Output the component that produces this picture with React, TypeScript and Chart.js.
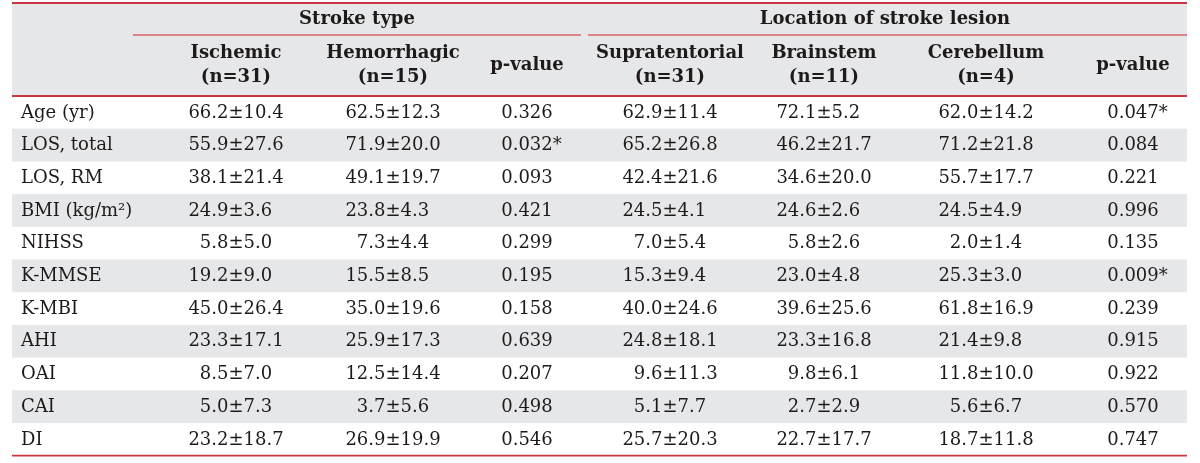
import React, { useEffect, useRef } from "react";
import { Chart, registerables } from "chart.js";

Chart.register(...registerables);

// ---- Table content ----
const groupHeaders = ["Stroke type", "Location of stroke lesion"];
const columnHeaders: string[][] = [
  ["Ischemic", "(n=31)"],
  ["Hemorrhagic", "(n=15)"],
  ["p-value"],
  ["Supratentorial", "(n=31)"],
  ["Brainstem", "(n=11)"],
  ["Cerebellum", "(n=4)"],
  ["p-value"],
];
const rowLabels = [
  "Age (yr)",
  "LOS, total",
  "LOS, RM",
  "BMI (kg/m²)",
  "NIHSS",
  "K-MMSE",
  "K-MBI",
  "AHI",
  "OAI",
  "CAI",
  "DI",
];
const ischemic = ["66.2±10.4", "55.9±27.6", "38.1±21.4", "24.9±3.6", "5.8±5.0", "19.2±9.0", "45.0±26.4", "23.3±17.1", "8.5±7.0", "5.0±7.3", "23.2±18.7"];
const hemorrhagic = ["62.5±12.3", "71.9±20.0", "49.1±19.7", "23.8±4.3", "7.3±4.4", "15.5±8.5", "35.0±19.6", "25.9±17.3", "12.5±14.4", "3.7±5.6", "26.9±19.9"];
const pStrokeType = ["0.326", "0.032*", "0.093", "0.421", "0.299", "0.195", "0.158", "0.639", "0.207", "0.498", "0.546"];
const supratentorial = ["62.9±11.4", "65.2±26.8", "42.4±21.6", "24.5±4.1", "7.0±5.4", "15.3±9.4", "40.0±24.6", "24.8±18.1", "9.6±11.3", "5.1±7.7", "25.7±20.3"];
const brainstem = ["72.1±5.2", "46.2±21.7", "34.6±20.0", "24.6±2.6", "5.8±2.6", "23.0±4.8", "39.6±25.6", "23.3±16.8", "9.8±6.1", "2.7±2.9", "22.7±17.7"];
const cerebellum = ["62.0±14.2", "71.2±21.8", "55.7±17.7", "24.5±4.9", "2.0±1.4", "25.3±3.0", "61.8±16.9", "21.4±9.8", "11.8±10.0", "5.6±6.7", "18.7±11.8"];
const pLocation = ["0.047*", "0.084", "0.221", "0.996", "0.135", "0.009*", "0.239", "0.915", "0.922", "0.570", "0.747"];

const columns = [ischemic, hemorrhagic, pStrokeType, supratentorial, brainstem, cerebellum, pLocation];

// ---- Layout (in scale units = pixels) ----
const colCenters = [236, 393, 527, 670, 824, 986, 1133];
const groupCenters = [357, 885];
const groupSpans: [number, number][] = [[133, 581], [588, 1187]];
const labelX = 21;
const tableLeft = 12;
const tableRight = 1187;
const topLineY = 3;
const groupLineY = 35;
const headerBottomY = 96;
const rowHeight = 32.7;

const RED = "#c93840";
const RED_LIGHT = "#d6646b";
const GREY = "#e6e7e8";
const TEXT = "#1e1a1b";
const FONT = "18px 'DejaVu Serif'";
const BOLD = "bold 18px 'DejaVu Serif'";

const tablePlugin = {
  id: "tablePlugin",
  beforeDraw(chart: any) {
    const { ctx } = chart;
    const xs = chart.scales.x;
    const ys = chart.scales.y;
    const X = (v: number) => xs.getPixelForValue(v);
    const Y = (v: number) => ys.getPixelForValue(v);
    const n = rowLabels.length;
    const bottomY = headerBottomY + n * rowHeight;

    ctx.save();
    // header background
    ctx.fillStyle = GREY;
    ctx.fillRect(X(tableLeft), Y(topLineY), X(tableRight) - X(tableLeft), Y(headerBottomY) - Y(topLineY));
    // alternating row bands
    for (let i = 0; i < n; i++) {
      if (i % 2 === 1) {
        const t = Y(headerBottomY + i * rowHeight);
        const b = Y(headerBottomY + (i + 1) * rowHeight);
        ctx.fillRect(X(tableLeft), t, X(tableRight) - X(tableLeft), b - t);
      }
    }
    // rules
    const hline = (y: number, x0: number, x1: number, w: number, color: string) => {
      ctx.strokeStyle = color;
      ctx.lineWidth = w;
      ctx.beginPath();
      ctx.moveTo(X(x0), Y(y));
      ctx.lineTo(X(x1), Y(y));
      ctx.stroke();
    };
    hline(topLineY, tableLeft, tableRight, 1.8, RED);
    groupSpans.forEach(([a, b]) => hline(groupLineY, a, b, 1.5, RED_LIGHT));
    hline(headerBottomY, tableLeft, tableRight, 1.8, RED);
    hline(bottomY, tableLeft, tableRight, 1.8, RED);

    // header text
    ctx.fillStyle = TEXT;
    ctx.textBaseline = "middle";
    ctx.textAlign = "center";
    ctx.font = BOLD;
    groupHeaders.forEach((g, i) => ctx.fillText(g, X(groupCenters[i]), Y(19)));
    columnHeaders.forEach((lines, i) => {
      if (lines.length === 1) {
        ctx.fillText(lines[0], X(colCenters[i]), Y(65));
      } else {
        ctx.fillText(lines[0], X(colCenters[i]), Y(53));
        ctx.fillText(lines[1], X(colCenters[i]), Y(77));
      }
    });

    // body text
    ctx.font = FONT;
    for (let r = 0; r < n; r++) {
      const cy = Y(headerBottomY + (r + 0.5) * rowHeight + 0.5);
      ctx.textAlign = "left";
      ctx.fillText(rowLabels[r], X(labelX), cy);
      columns.forEach((col, c) => {
        const s = col[r];
        const cx = X(colCenters[c]);
        if (s.includes("±")) {
          const [m, sd] = s.split("±");
          const pw = ctx.measureText("±").width;
          ctx.textAlign = "center";
          ctx.fillText("±", cx, cy);
          ctx.textAlign = "right";
          ctx.fillText(m, cx - pw / 2, cy);
          ctx.textAlign = "left";
          ctx.fillText(sd, cx + pw / 2, cy);
        } else {
          const num = s.replace("*", "");
          const w = ctx.measureText(num).width;
          ctx.textAlign = "left";
          ctx.fillText(s, cx - w / 2, cy);
        }
      });
    }
    ctx.restore();
  },
};

export default function App() {
  const canvasRef = useRef<HTMLCanvasElement | null>(null);
  useEffect(() => {
    if (!canvasRef.current) return;
    const chart = new Chart(canvasRef.current, {
      type: "scatter",
      data: { datasets: [{ data: [] }] },
      options: {
        animation: false,
        responsive: true,
        maintainAspectRatio: false,
        layout: { padding: 0 },
        plugins: { legend: { display: false }, tooltip: { enabled: false } },
        scales: {
          x: { type: "linear", min: 0, max: 1200, display: false },
          y: { type: "linear", min: 0, max: 463, reverse: true, display: false },
        },
      },
      plugins: [tablePlugin],
    });
    return () => chart.destroy();
  }, []);
  return (
    <div style={{ position: "absolute", left: 0, top: 0, width: 1200, height: 463, background: "#ffffff" }}>
      <canvas ref={canvasRef} />
    </div>
  );
}
